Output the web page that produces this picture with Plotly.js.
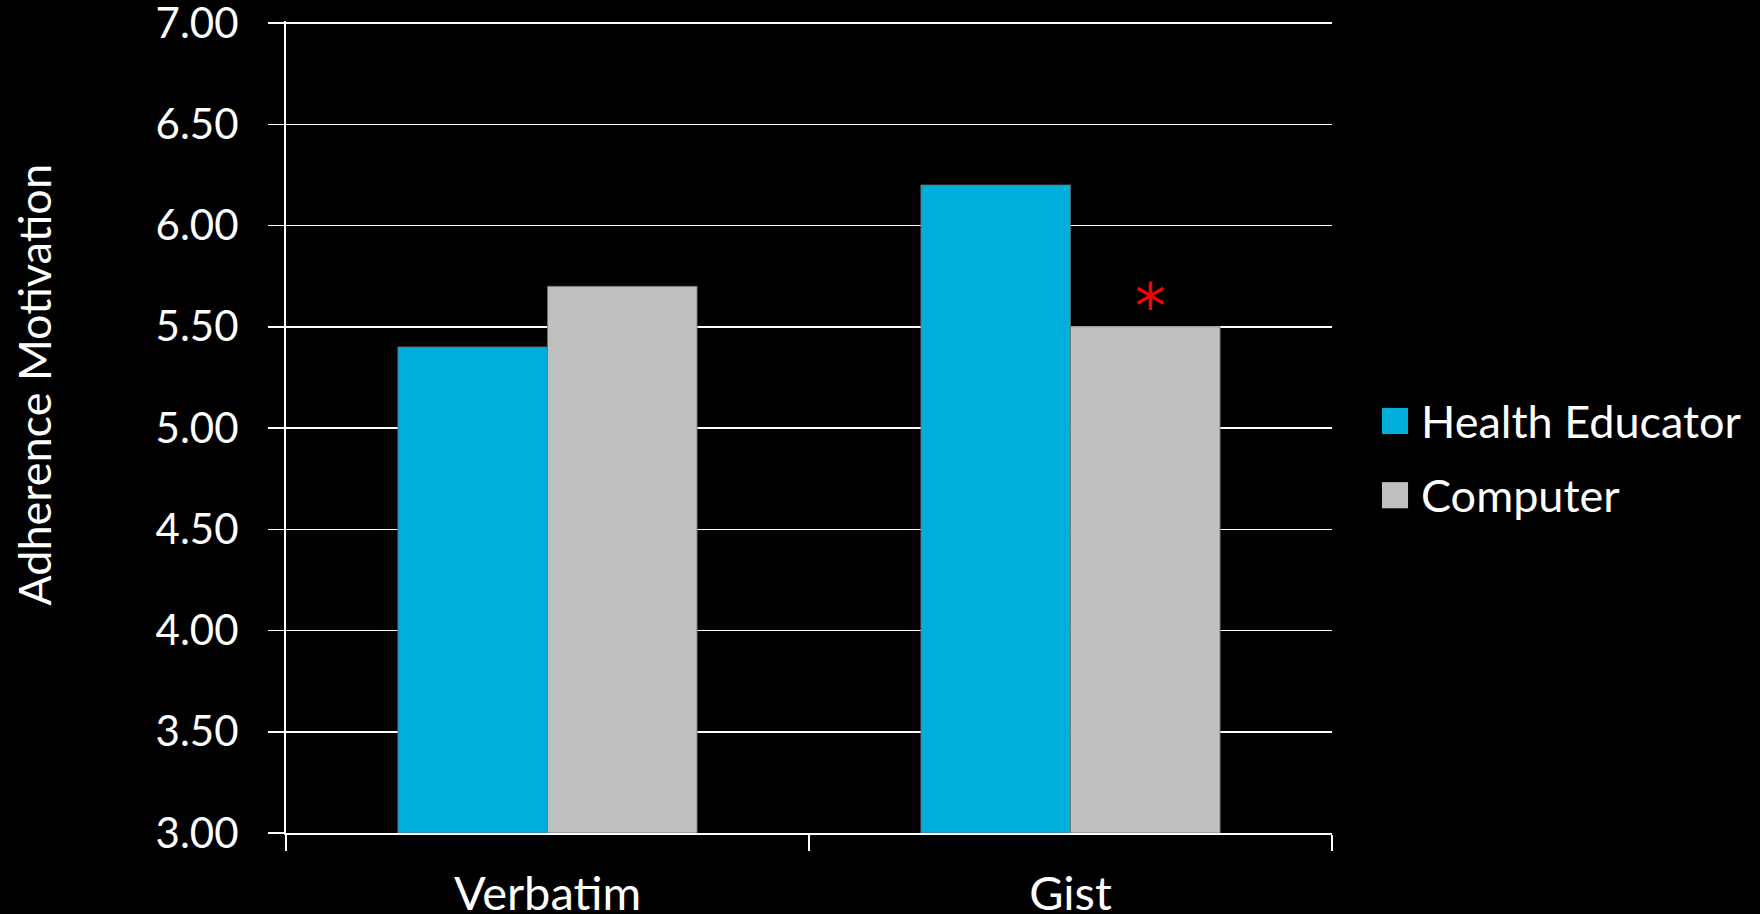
<!DOCTYPE html>
<html>
<head>
<meta charset="utf-8">
<script src="https://cdn.plot.ly/plotly-3.0.1.min.js"></script>
<style>
  html, body { margin: 0; padding: 0; background: #000; }
  #chart { width: 1760px; height: 914px; }
</style>
</head>
<body>
<div id="chart"></div>
<script>
// Adherence motivation by presentation format and delivery source
const categories = ['Verbatim', 'Gist'];
const seriesNames = ['Health Educator', 'Computer'];
const healthEducator = [5.40, 6.20];
const computer = [5.70, 5.50];
const seriesColors = ['#00AEDB', '#C0C0C0'];
// significance marker: category and series it sits above
const sigMarks = [{ category: 'Gist', series: 1, text: '*' }];

const FONT = 'Lato, "Noto Sans", "DejaVu Sans", sans-serif';
const seriesValues = [healthEducator, computer];

const traces = seriesValues.map((vals, i) => ({
  type: 'bar',
  name: seriesNames[i],
  x: categories,
  y: vals.map(v => v - 3),
  base: 3,
  marker: { color: seriesColors[i], line: { color: 'rgba(110,110,110,0.8)', width: 1 } },
  hoverinfo: 'skip',
  showlegend: false
}));

// hand-drawn legend: colour swatch + label for each series
const shapes = [];
const annotations = [];
const legendY = [0.5074, 0.4160];
seriesNames.forEach((name, i) => {
  shapes.push({
    type: 'rect', xref: 'paper', yref: 'paper',
    x0: 1.0478, x1: 1.0727,
    y0: legendY[i] - 0.0161, y1: legendY[i] + 0.0161,
    fillcolor: seriesColors[i], line: { width: 0 }
  });
  annotations.push({
    xref: 'paper', yref: 'paper', x: 1.0830, y: legendY[i],
    xanchor: 'left', yanchor: 'middle', showarrow: false,
    text: name, font: { family: FONT, size: 45, color: '#FFFFFF' }
  });
});

// y axis title
annotations.push({
  xref: 'paper', yref: 'paper', x: -0.2409, y: 0.552,
  xanchor: 'center', yanchor: 'middle', showarrow: false, textangle: -90,
  text: 'Adherence Motivation', font: { family: FONT, size: 45, color: '#FFFFFF' }
});

// significance asterisks over the bars they refer to
sigMarks.forEach(m => {
  const ci = categories.indexOf(m.category);
  const val = seriesValues[m.series][ci];
  annotations.push({
    xref: 'x', yref: 'y', x: m.category, y: val,
    xshift: m.series === 0 ? -80 : 80, yshift: -18,
    xanchor: 'center', yanchor: 'bottom', showarrow: false,
    text: m.text, font: { family: '"DejaVu Sans", sans-serif', size: 62, color: '#FF0000' }
  });
});

const layout = {
  width: 1760, height: 914,
  paper_bgcolor: '#000000', plot_bgcolor: '#000000',
  margin: { l: 286, r: 428, t: 21, b: 81 },
  barmode: 'group', bargap: 0.428, bargroupgap: 0,
  font: { family: FONT, color: '#FFFFFF' },
  xaxis: {
    type: 'category',
    tickson: 'boundaries',
    ticks: 'outside', ticklen: 16, tickwidth: 1.5, tickcolor: '#FFFFFF',
    showline: true, linecolor: '#FFFFFF', linewidth: 2,
    showgrid: false, zeroline: false,
    tickfont: { family: FONT, size: 47, color: '#FFFFFF' },
    ticklabelstandoff: 19,
    fixedrange: true
  },
  yaxis: {
    range: [3, 7.01], dtick: 0.5, tick0: 3, tickformat: '.2f',
    ticks: 'outside', ticklen: 16, tickwidth: 1.5, tickcolor: '#FFFFFF',
    showline: true, linecolor: '#FFFFFF', linewidth: 2,
    showgrid: true, gridcolor: '#FFFFFF', gridwidth: 1.5,
    zeroline: false,
    tickfont: { family: FONT, size: 42, color: '#FFFFFF' },
    ticklabelstandoff: 21,
    ticklabeloverflow: 'allow',
    fixedrange: true
  },
  shapes: shapes,
  annotations: annotations,
  showlegend: false
};

Plotly.newPlot('chart', traces, layout, { staticPlot: true, displayModeBar: false });
</script>
</body>
</html>
